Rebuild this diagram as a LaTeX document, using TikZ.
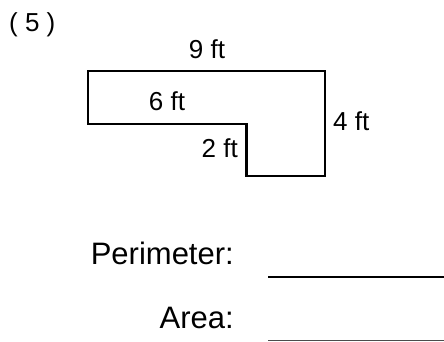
\documentclass[tikz,border=0pt]{standalone}
\usepackage{fontspec}
\setmainfont{Liberation Sans}
\begin{document}
\begin{tikzpicture}[x=1pt,y=-1pt,
  lbl/.style={inner sep=0pt,font=\fontsize{26}{29}\selectfont},
  big/.style={inner sep=0pt,font=\fontsize{31}{34}\selectfont},
  outline/.style={draw=black,line width=2.2pt,line join=miter}]
\useasboundingbox (0,0) rectangle (444,341);
\coordinate (A) at (88,71);
\coordinate (B) at (325,71);
\coordinate (C) at (325,176);
\coordinate (D) at (246.5,176);
\coordinate (E) at (246.5,124);
\coordinate (F) at (88,124);
\draw[outline] (A) -- (B) -- (C) -- (D) -- (E) -- (F) -- cycle;
\node[inner sep=0pt,font=\fontsize{26}{29}\selectfont,anchor=base west] (num) at (9,31) {( 5 )};
\node[lbl,anchor=base] (t9) at (207,58) {9 ft};
\node[lbl,anchor=base] (t6) at (167,110) {6 ft};
\node[lbl,anchor=base east] (t2) at (238,157) {2 ft};
\node[lbl,anchor=base west] (t4) at (333,130) {4 ft};
\node[big,anchor=base east] (per) at (234,264) {Perimeter:};
\node[big,anchor=base east] (area) at (234,328) {Area:};
\coordinate (p1) at (268,277);
\coordinate (p2) at (444,277);
\coordinate (a1) at (268,340);
\coordinate (a2) at (444,340);
\draw[line width=1.8pt] (p1) -- (p2);
\draw[line width=1pt,black!70] (a1) -- (a2);
\end{tikzpicture}
\end{document}
